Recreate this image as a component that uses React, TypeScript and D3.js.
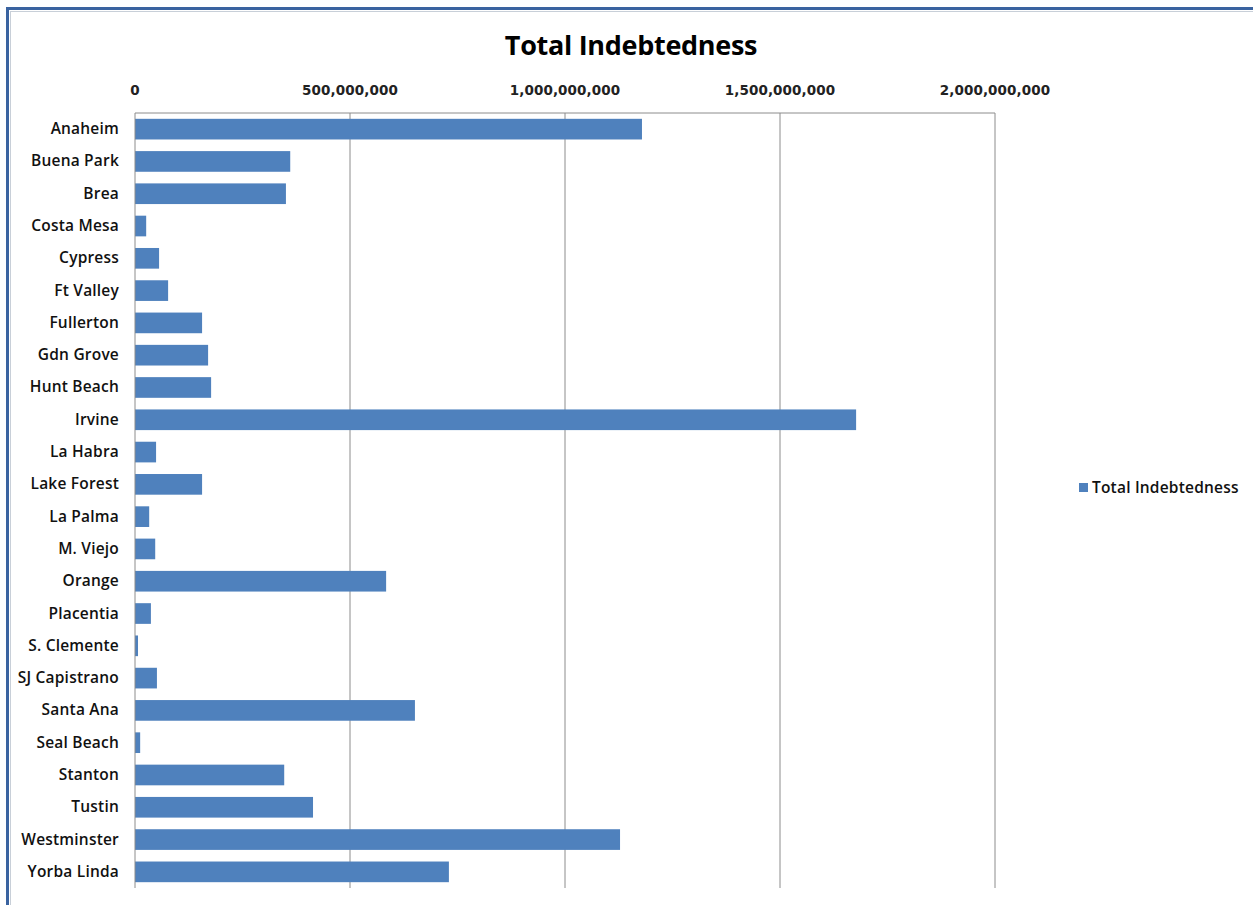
import React from "react";
import * as d3 from "d3";

const categories = [
  "Anaheim", "Buena Park", "Brea", "Costa Mesa", "Cypress", "Ft Valley", "Fullerton",
  "Gdn Grove", "Hunt Beach", "Irvine", "La Habra", "Lake Forest", "La Palma", "M. Viejo",
  "Orange", "Placentia", "S. Clemente", "SJ Capistrano", "Santa Ana", "Seal Beach",
  "Stanton", "Tustin", "Westminster", "Yorba Linda",
];
const values = [
  1179e6, 361e6, 351e6, 26e6, 56e6, 77e6, 156e6,
  170e6, 177e6, 1677e6, 49e6, 156e6, 33e6, 47e6,
  584e6, 37e6, 7e6, 51e6, 651e6, 12e6,
  347e6, 414e6, 1128e6, 730e6,
];
const tickValues = [0, 500e6, 1000e6, 1500e6, 2000e6];
const title = "Total Indebtedness";
const seriesName = "Total Indebtedness";

const W = 1253, H = 905;
const left = 135, right = 995, top = 113, bottom = 888;
const font = "'Open Sans', Lato, sans-serif";
const barColor = "#4f81bd";

export default function App() {
  const x = d3.scaleLinear().domain([0, 2000e6]).range([left, right]);
  const y = d3.scaleBand<string>().domain(categories).range([top, bottom]).paddingInner(0.36).paddingOuter(0.18);
  const fmt = d3.format(",");
  return (
    <svg width={W} height={H} style={{ position: "absolute", left: 0, top: 0, background: "#fff" }}>
      <rect x={0} y={0} width={W} height={H} fill="#fff" />
      <rect x={7.5} y={8.5} width={W + 20} height={H + 20} fill="none" stroke="#3a63a0" strokeWidth={3} />
      <rect x={10.5} y={11.5} width={W + 20} height={H + 20} fill="none" stroke="#c8cfd8" strokeWidth={1} />
      <text x={631} y={55} textAnchor="middle" fontFamily={font} fontWeight="bold" fontSize={27} letterSpacing={-0.3} fill="#000">{title}</text>
      {tickValues.map((t) => (
        <g key={t}>
          {t > 0 && <line x1={x(t)} x2={x(t)} y1={top} y2={bottom} stroke="#8c8c8c" strokeWidth={1} />}
          <text x={x(t)} y={95} textAnchor="middle" fontFamily="'DejaVu Sans', sans-serif" fontWeight="bold" fontSize={13.5} letterSpacing={0.1} fill="#222">{fmt(t)}</text>
        </g>
      ))}
      <line x1={left} x2={right} y1={top} y2={top} stroke="#8c8c8c" strokeWidth={1} />
      {categories.map((c, i) => (
        <g key={c}>
          <rect x={x(0)} y={y(c)!} width={x(values[i]) - x(0)} height={y.bandwidth()} fill={barColor} />
          <text x={119} y={y(c)! + y.bandwidth() / 2 + 5} textAnchor="end" fontFamily={font} fontWeight={600} fontSize={15.5} letterSpacing={0.2} fill="#111">{c}</text>
        </g>
      ))}
      <line x1={left} x2={left} y1={top} y2={bottom} stroke="#8c8c8c" strokeWidth={1} />
      <rect x={1079} y={483} width={9} height={9} fill={barColor} />
      <text x={1092} y={493} fontFamily={font} fontWeight={600} fontSize={15.5} letterSpacing={0.2} fill="#111">{seriesName}</text>
    </svg>
  );
}
